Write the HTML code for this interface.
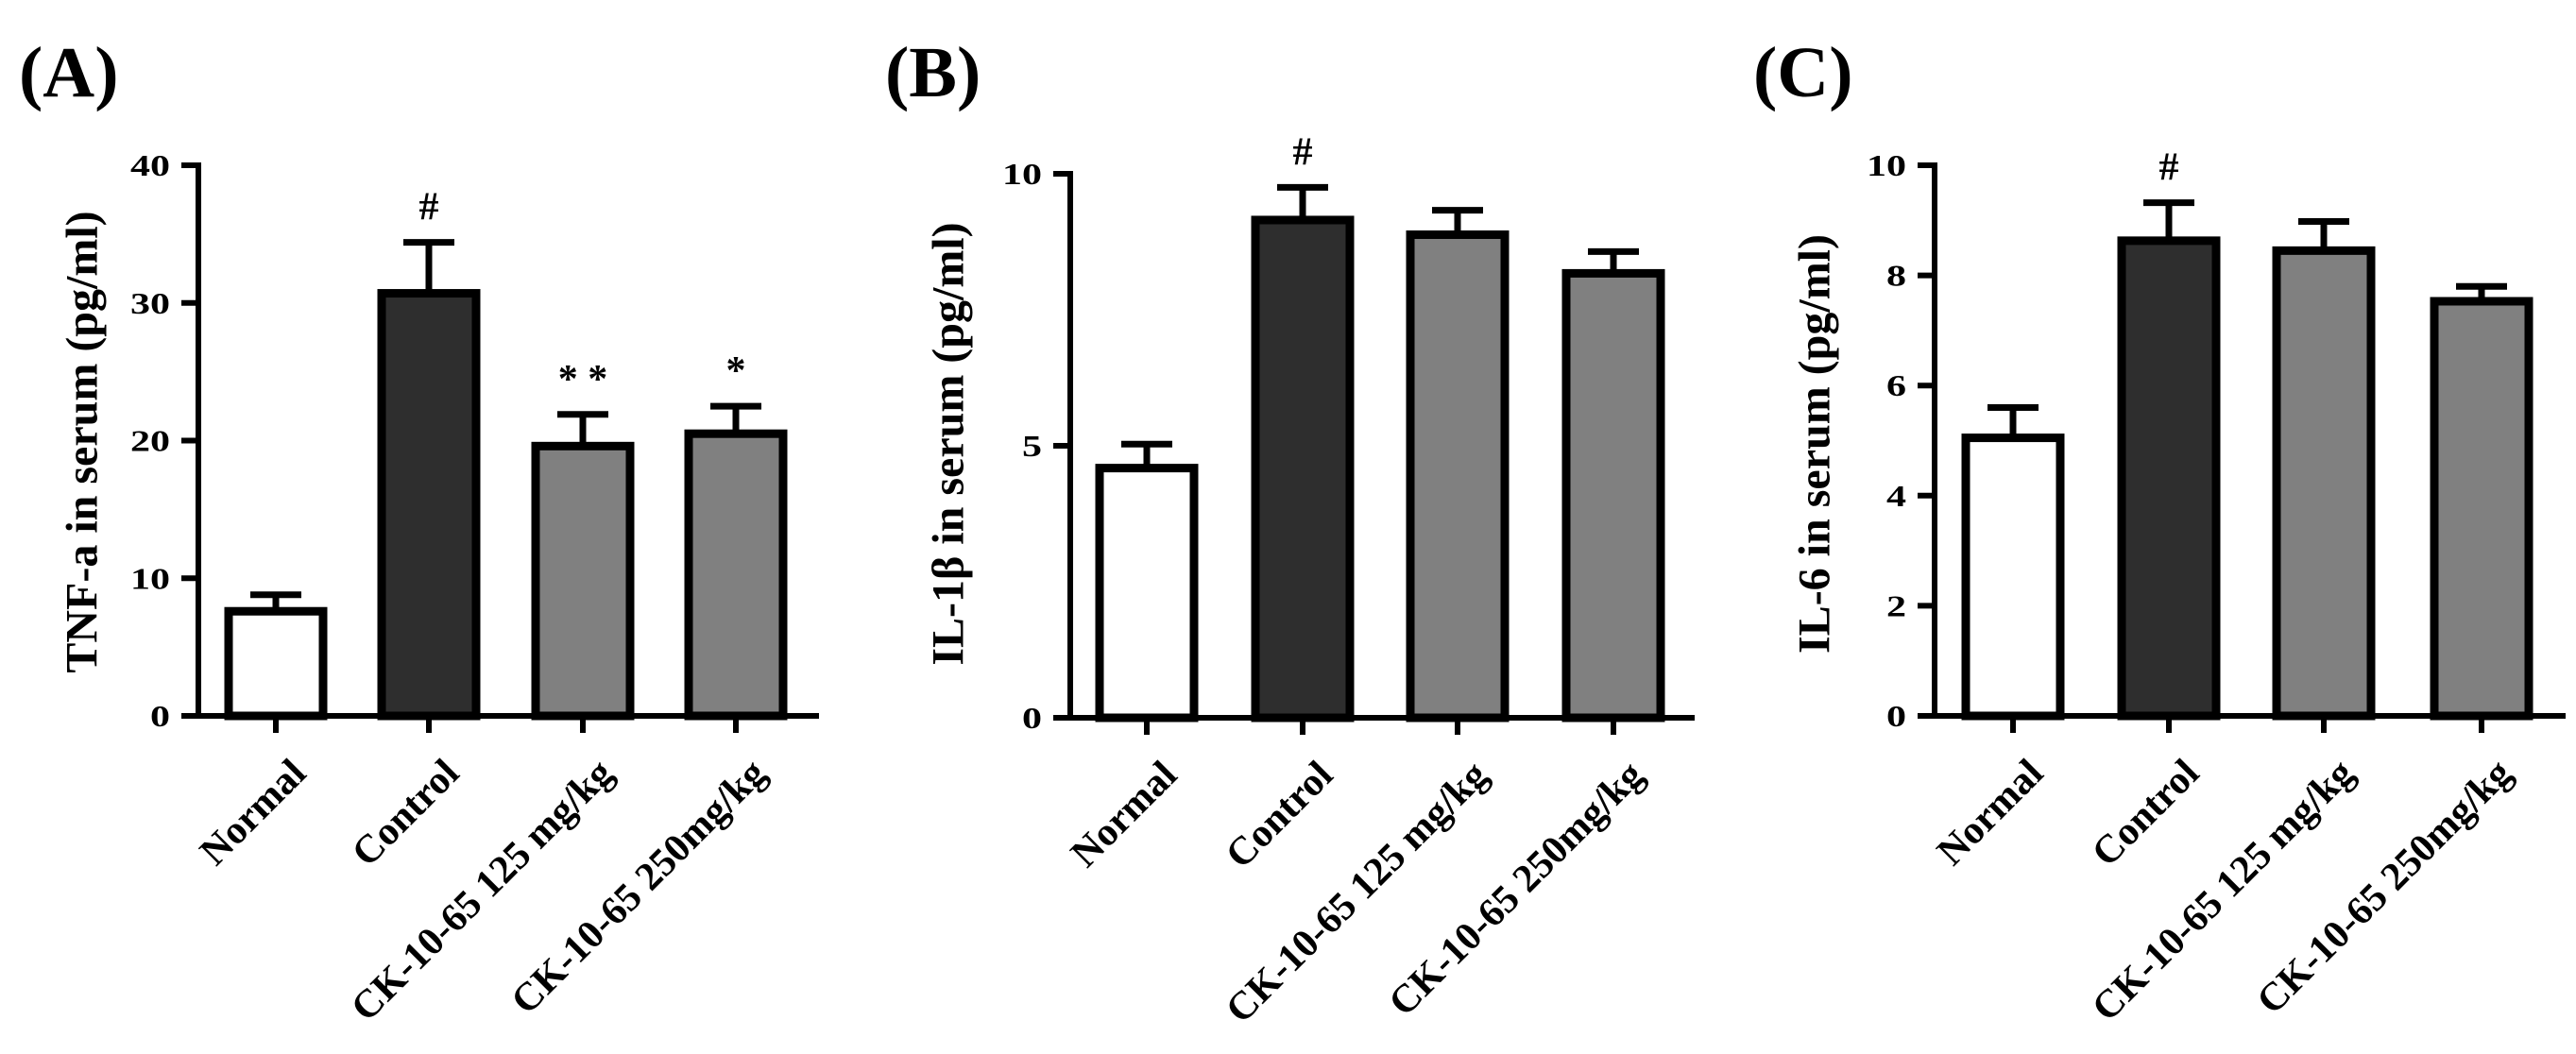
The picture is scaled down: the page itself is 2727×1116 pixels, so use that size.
<!DOCTYPE html>
<html><head><meta charset="utf-8">
<style>
html,body{margin:0;padding:0;background:#fff;}
svg{display:block;}
svg text{font-family:"Liberation Serif","Times New Roman",Times,serif;font-weight:bold;}
</style></head>
<body>
<svg id="fig" width="2727" height="1116" viewBox="0 0 2727 1116" xmlns="http://www.w3.org/2000/svg"></svg>
<script>
const categories = ["Normal","Control","CK-10-65 125 mg/kg","CK-10-65 250mg/kg"];
const tnfValues = [7.6, 30.7, 19.6, 20.5];
const tnfErrors = [1.2, 3.7, 2.3, 2.0];
const tnfTicks = [0,10,20,30,40];
const tnfMarks = ["", "#", "* *", "*"];
const il1bValues = [4.59, 9.15, 8.88, 8.17];
const il1bErrors = [0.44, 0.6, 0.45, 0.4];
const il1bTicks = [0,5,10];
const il1bMarks = ["", "#", "", ""];
const il6Values = [5.05, 8.63, 8.45, 7.53];
const il6Errors = [0.55, 0.69, 0.53, 0.27];
const il6Ticks = [0,2,4,6,8,10];
const il6Marks = ["", "#", "", ""];
const fills = ["#ffffff","#2e2e2e","#808080","#808080"];

const NS = "http://www.w3.org/2000/svg";
const svg = document.getElementById('fig');
function mk(tag, attrs, parent, text){
  const e = document.createElementNS(NS, tag);
  for (const k in attrs) e.setAttribute(k, attrs[k]);
  if (text !== undefined) e.textContent = text;
  (parent||svg).appendChild(e);
  return e;
}

function panel(cfg){
  const g = mk('g', {});
  
  
  const yMax = cfg.ticks[cfg.ticks.length-1];
  const y = v => cfg.zero - (cfg.zero - cfg.top) * v / yMax;
  const x = i => cfg.centers[i];
  const lt = mk('text', {x: cfg.letterX, y: 102, 'font-size': 76}, g, cfg.letter);
  
  
  const yt = mk('text', {x: cfg.titleX, y: cfg.titleY, 'font-size': 48, 'text-anchor': 'middle',
    transform: `rotate(-90 ${cfg.titleX} ${cfg.titleY})`, 'dominant-baseline': 'central'}, g, cfg.title);
  
  
  cfg.values.forEach((v, i) => {
    const bw = 100, sw = 9;
    const r = mk('rect', {x: x(i) - bw/2, y: y(v), width: bw, height: cfg.zero - y(v),
      fill: fills[i], stroke: '#000', 'stroke-width': sw}, g);
    
    
    const et = y(v + cfg.errors[i]);
    const el = mk('path', {d: `M${x(i)} ${y(v)} V${et} M${x(i)-27} ${et} H${x(i)+27}`,
      stroke: '#000', 'stroke-width': 7, fill: 'none'}, g);
    
    
    if (cfg.marks[i]) {
      const m = mk('text', {x: x(i), y: et - 24, 'font-size': 42, 'text-anchor': 'middle'}, g, cfg.marks[i]);
      
      
    }
    const tk = mk('line', {x1: x(i), x2: x(i), y1: cfg.zero, y2: cfg.zero + 18, stroke: '#000', 'stroke-width': 6}, g);
    
    
    const bx = x(i) + 34, by = cfg.zero + 63;
    const cl = mk('text', {x: bx, y: by, 'font-size': 42, 'text-anchor': 'end',
      transform: `rotate(-45 ${bx} ${by})`}, g, categories[i]);
    
    
  });
  const ax = mk('path', {d: `M${cfg.axisX} ${cfg.top-3} V${cfg.zero} M${cfg.axisX-18} ${cfg.zero} H${cfg.right}`,
    stroke: '#000', 'stroke-width': 6, fill: 'none'}, g);
  
  
  cfg.ticks.forEach(t => {
    const yl = mk('line', {x1: cfg.axisX - 18, x2: cfg.axisX, y1: y(t), y2: y(t), stroke: '#000', 'stroke-width': 6}, g);
    
    
    const s = String(t);
    const tl = mk('text', {x: cfg.axisX - 30, y: y(t) + 11, 'font-size': 32, 'text-anchor': 'end',
      textLength: s.length * 21, lengthAdjust: 'spacingAndGlyphs'}, g, s);
    
    
  });
}

panel({name:'panel-a-tnf', letter:'(A)', letterX:20, title:'TNF-a in serum (pg/ml)', titleX:87, titleY:468,
  axisX:210, top:175, zero:758, right:867, centers:[292,454,617,779],
  ticks:tnfTicks, values:tnfValues, errors:tnfErrors, marks:tnfMarks});
panel({name:'panel-b-il1b', letter:'(B)', letterX:937, title:'IL-1β in serum (pg/ml)', titleX:1004, titleY:470,
  axisX:1133, top:184, zero:760, right:1794, centers:[1214,1379,1543,1708],
  ticks:il1bTicks, values:il1bValues, errors:il1bErrors, marks:il1bMarks});
panel({name:'panel-c-il6', letter:'(C)', letterX:1856, title:'IL-6 in serum (pg/ml)', titleX:1921, titleY:470,
  axisX:2048, top:175, zero:758, right:2716, centers:[2131,2296,2460,2627],
  ticks:il6Ticks, values:il6Values, errors:il6Errors, marks:il6Marks});
</script>
</body></html>
